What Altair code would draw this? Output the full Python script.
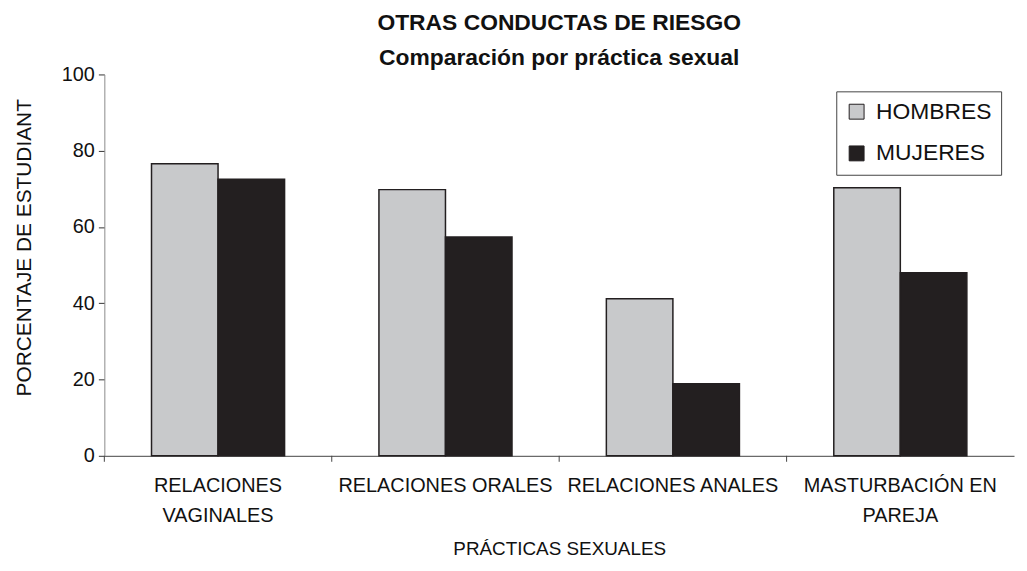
import altair as alt
import pandas as pd

categories = ["RELACIONES VAGINALES", "RELACIONES ORALES", "RELACIONES ANALES", "MASTURBACIÓN EN PAREJA"]
series = ["HOMBRES", "MUJERES"]
hombres = [76.6, 69.8, 41.2, 70.3]
mujeres = [72.5, 57.4, 18.9, 48.0]
colors = ["#c8c9cb", "#231f20"]
y_ticks = [0, 20, 40, 60, 80, 100]

rows = []
for c, h, m in zip(categories, hombres, mujeres):
    rows.append({"practica": c, "sexo": "HOMBRES", "valor": h})
    rows.append({"practica": c, "sexo": "MUJERES", "valor": m})
df = pd.DataFrame(rows)
cat_df = pd.DataFrame({"practica": categories})

FONT = "Liberation Sans"
W, H = 916, 384

label_expr = (
    "datum.label == 'RELACIONES VAGINALES' ? ['RELACIONES', 'VAGINALES'] : "
    "datum.label == 'MASTURBACIÓN EN PAREJA' ? ['MASTURBACIÓN EN', 'PAREJA'] : datum.label"
)

x_enc = alt.X(
    "practica:N",
    sort=categories,
    scale=alt.Scale(paddingInner=0, paddingOuter=0),
    axis=alt.Axis(
        title="PRÁCTICAS SEXUALES",
        labelAngle=0,
        labelExpr=label_expr,
        labelFontSize=20,
        labelLineHeight=30,
        labelPadding=20,
        labelLimit=400,
        labelColor="#111",
        ticks=False,
        domainColor="#444",
        titleFontSize=19,
        titleFontWeight="normal",
        titleColor="#111",
        titlePadding=14,
    ),
)

bars = alt.Chart(df).mark_bar(stroke="#231f20", strokeWidth=1.5).encode(
    x=x_enc,
    xOffset=alt.XOffset("sexo:N", sort=series, scale=alt.Scale(paddingOuter=0.709, paddingInner=0)),
    y=alt.Y(
        "valor:Q",
        scale=alt.Scale(domain=[0, 100]),
        axis=alt.Axis(
            title="PORCENTAJE DE ESTUDIANT",
            values=y_ticks,
            grid=False,
            labelFontSize=20,
            labelPadding=4,
            labelColor="#111",
            tickSize=6,
            tickColor="#333",
            domainColor="#8a8a8a",
            titleFontSize=21,
            titleFontWeight="normal",
            titleColor="#111",
            titlePadding=27,
            titleY=174,
        ),
    ),
    color=alt.Color(
        "sexo:N",
        sort=series,
        scale=alt.Scale(domain=series, range=colors),
        legend=alt.Legend(
            title=None,
            orient="none",
            legendX=737,
            legendY=17,
            symbolType="square",
            symbolSize=225,
            symbolStrokeColor="#231f20",
            symbolStrokeWidth=1,
            symbolOpacity=1,
            labelFontSize=23,
            labelColor="#111",
            rowPadding=18,
            padding=9,
            strokeColor="#444",
            labelOffset=8,
        ),
    ),
)

ticks = alt.Chart(cat_df).mark_rule(color="#444", strokeWidth=1).encode(
    x=alt.X("practica:N", sort=categories, bandPosition=0),
    y=alt.value(H),
    y2=alt.value(H + 6),
)

chart = alt.layer(bars, ticks).properties(
    width=W,
    height=H,
    padding={"left": 5, "right": 5, "top": 2, "bottom": 0},
    title=alt.TitleParams(
        text="OTRAS CONDUCTAS DE RIESGO",
        subtitle="Comparación por práctica sexual",
        fontSize=23,
        subtitleFontSize=23,
        fontWeight="bold",
        subtitleFontWeight="bold",
        color="#111",
        subtitleColor="#111",
        subtitlePadding=12,
        offset=-5,
        anchor="middle",
        font=FONT,
        subtitleFont=FONT,
    ),
).configure(font=FONT).configure_view(stroke=None)

chart.save("out.html", embed_options={"renderer": "svg", "actions": False})
